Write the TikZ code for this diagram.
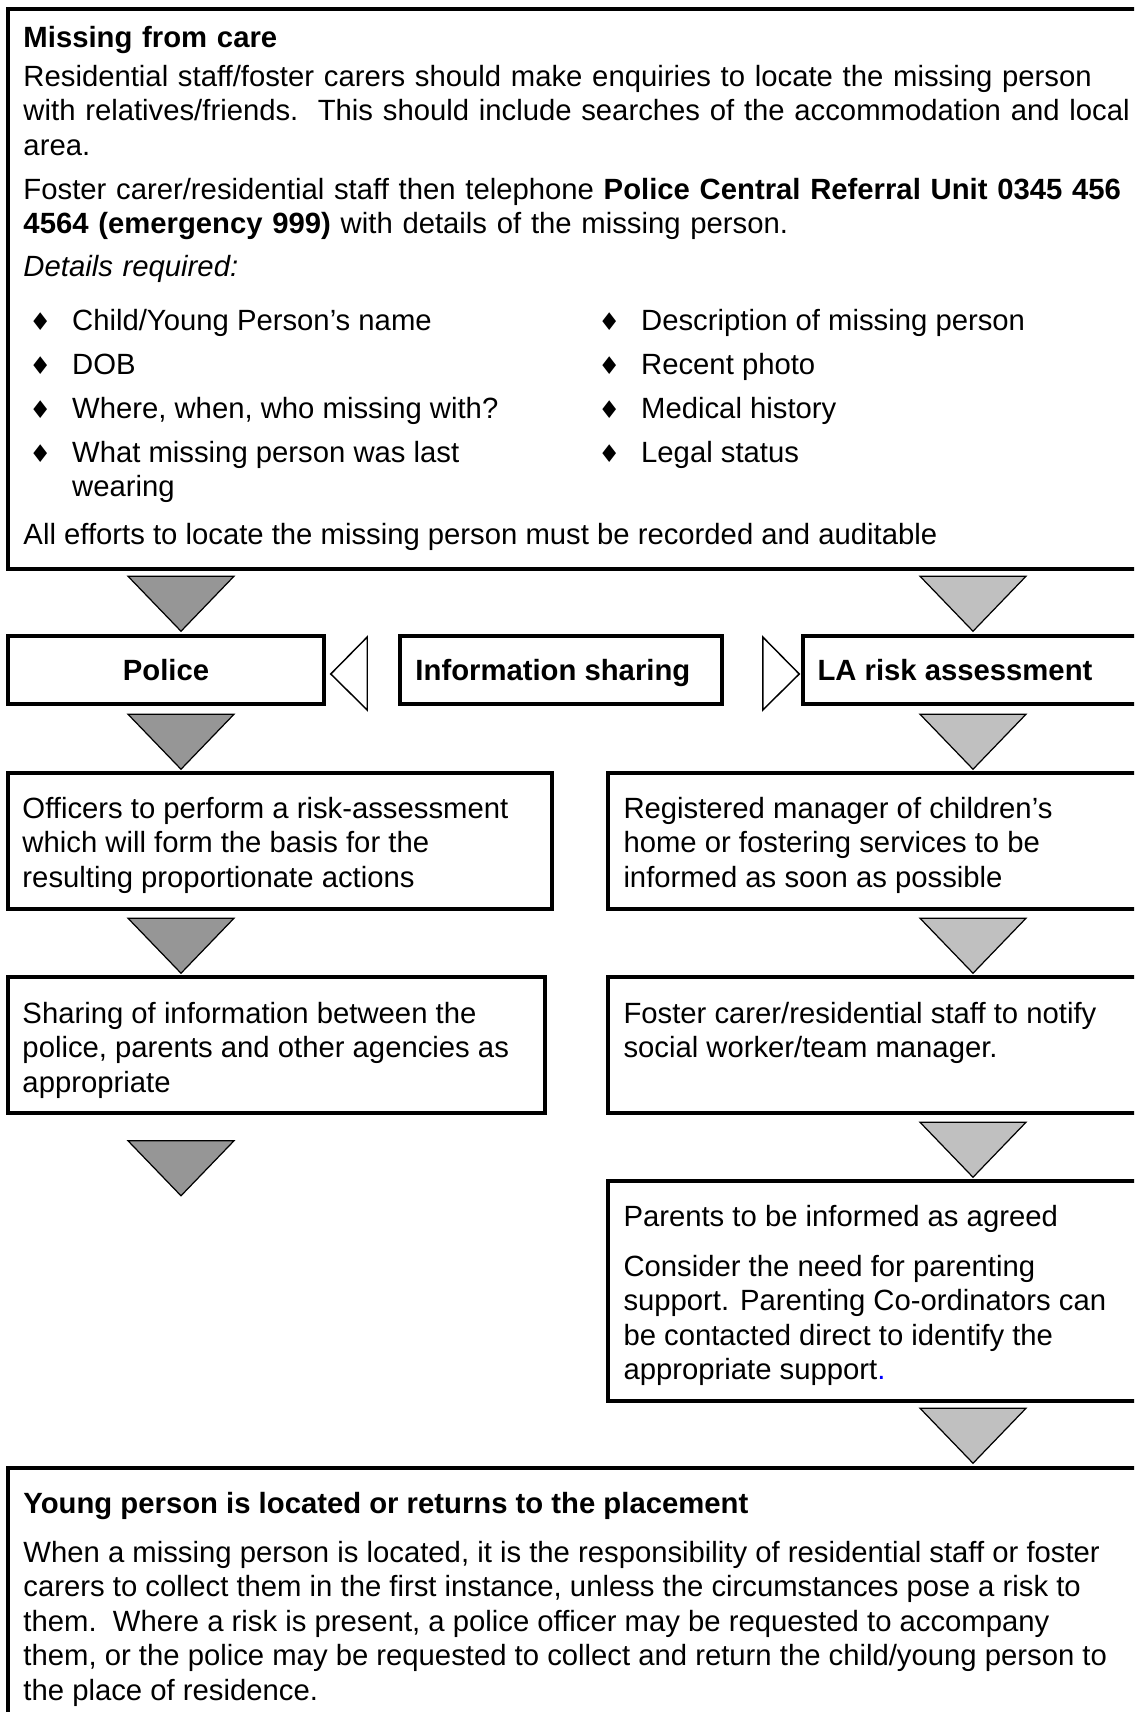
\documentclass[tikz,border=0pt]{standalone}
\usepackage{fontspec}
\setmainfont{Liberation Sans}
\newfontfamily\symfont{DejaVu Sans}
\usetikzlibrary{calc,fit}

\definecolor{darkfill}{RGB}{150,150,150}
\definecolor{lightfill}{RGB}{192,192,192}
\newcommand{\bul}{\makebox[17.5pt][l]{\symfont\fontsize{10pt}{10pt}\selectfont ♦}}
\newcommand{\downtri}[2]{\draw[#1] (#2) -- ++(-53,-55) -- ++(106,0) -- cycle;}

\begin{document}
\begin{tikzpicture}[x=0.41pt,y=-0.41pt,
                    box/.style={draw,line width=1.45pt,inner sep=0pt},
                    txt/.style={inner sep=0pt,align=left,anchor=north west,
                                font=\fontsize{12pt}{14.1pt}\selectfont},
                    dark tri/.style={draw,line width=0.5pt,fill=darkfill},
                    light tri/.style={draw,line width=0.5pt,fill=lightfill},
                    side tri/.style={draw,line width=0.6pt,fill=white}]
\useasboundingbox (0,0) rectangle (1134,1712);
\fill[white] (0,0) rectangle (1134,1712);
\clip (0,0) rectangle (1134,1712);

\node[box,fit={(8,9) (1150,569)}] (1) {};
\node[box,fit={(8,636) (324,704)}] (2) {};
\node[box,fit={(400,636) (722,704)}] (3) {};
\node[box,fit={(803,636) (1150,704)}] (4) {};
\node[box,fit={(8,773) (552,909)}] (5) {};
\node[box,fit={(608,773) (1150,909)}] (6) {};
\node[box,fit={(8,977) (545,1113)}] (7) {};
\node[box,fit={(608,977) (1150,1113)}] (8) {};
\node[box,fit={(608,1181) (1150,1401)}] (9) {};
\node[box,fit={(8,1468) (1150,1760)}] (10) {};

\coordinate (l) at (181,0);
\coordinate (r) at (973,0);

\downtri{dark tri}{$(2.north -| l)+(0,-3)$}
\downtri{light tri}{$(4.north -| r)+(0,-3)$}
\downtri{dark tri}{$(5.north -| l)+(0,-2)$}
\downtri{light tri}{$(6.north -| r)+(0,-2)$}
\downtri{dark tri}{$(7.north -| l)+(0,-2)$}
\downtri{light tri}{$(8.north -| r)+(0,-2)$}
\downtri{dark tri}{$(7.south -| l)+(0,81)$}
\downtri{light tri}{$(9.north -| r)+(0,-2)$}
\downtri{light tri}{$(10.north -| r)+(0,-3)$}

\draw[side tri] ($(2.east)+(5,4)$) -- ($(3.west)+(-31,-33)$) -- ($(3.west)+(-31,40)$) -- cycle;
\draw[side tri] ($(4.west)+(-2,4)$) -- ($(3.east)+(39,-33)$) -- ($(3.east)+(39,40)$) -- cycle;

\node[txt,text width=470pt] (1t) at (23,23) {\strut\textbf{Missing from care}\\[1.9pt]
Residential staff/foster carers should make enquiries to locate the missing person\\
with relatives/friends.\ \ This should include searches of the accommodation and local\\
area.\\[3.9pt]
Foster carer/residential staff then telephone \textbf{Police Central Referral Unit 0345 456}\\
\textbf{4564 (emergency 999)} with details of the missing person.\\[3.5pt]
\textit{Details required:}};
\node[txt] (1l) at (29,306) {\strut\bul Child/Young Person’s name\\[3.9pt]
\bul DOB\\[3.9pt]
\bul Where, when, who missing with?\\[3.9pt]
\bul What missing person was last\\
\hspace*{17.5pt}wearing};
\node[txt] (1r) at (598,306) {\strut\bul Description of missing person\\[3.9pt]
\bul Recent photo\\[3.9pt]
\bul Medical history\\[3.9pt]
\bul Legal status};
\node[txt] (1e) at (23,520) {\strut All efforts to locate the missing person must be recorded and auditable};

\node[txt,anchor=north] (2t) at (166,656) {\strut\textbf{Police}};
\node[txt] (3t) at (415,656) {\strut\textbf{Information sharing}};
\node[txt] (4t) at (817,656) {\strut\textbf{LA risk assessment}};

\node[txt] (5t) at (22,794) {\strut Officers to perform a risk-assessment\\
which will form the basis for the\\
resulting proportionate actions};
\node[txt] (6t) at (623,794) {\strut Registered manager of children’s\\
home or fostering services to be\\
informed as soon as possible};
\node[txt] (7t) at (22,999) {\strut Sharing of information between the\\
police, parents and other agencies as\\
appropriate};
\node[txt] (8t) at (623,999) {\strut Foster carer/residential staff to notify\\
social worker/team manager.};
\node[txt] (9t) at (623,1202) {\strut Parents to be informed as agreed\\[6.4pt]
Consider the need for parenting\\
support. Parenting Co-ordinators can\\
be contacted direct to identify the\\
appropriate support\textcolor{blue}{.}};
\node[txt] (10t) at (23,1489) {\strut\textbf{Young person is located or returns to the placement}\\[6pt]
When a missing person is located, it is the responsibility of residential staff or foster\\
carers to collect them in the first instance, unless the circumstances pose a risk to\\
them.\ \ Where a risk is present, a police officer may be requested to accompany\\
them, or the police may be requested to collect and return the child/young person to\\
the place of residence.};
\end{tikzpicture}
\end{document}
